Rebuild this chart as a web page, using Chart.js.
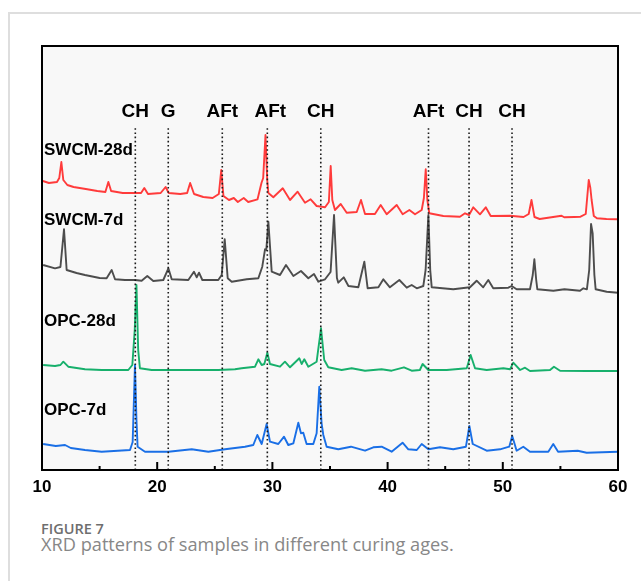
<!DOCTYPE html>
<html>
<head>
<meta charset="utf-8">
<script src="https://cdn.jsdelivr.net/npm/chart.js@4.4.0/dist/chart.umd.min.js"></script>
<style>
  html, body { margin: 0; padding: 0; background: #fff; }
  body { width: 641px; height: 581px; position: relative; overflow: hidden; }
  .card { position: absolute; left: 8px; top: 12px; width: 700px; height: 700px;
          border-left: 2px solid #dedede; border-top: 2px solid #dedede; }
  #xrd { position: absolute; left: 0; top: 0; }
  .fig { position: absolute; left: 41px; top: 519px; font: 600 14.5px "Open Sans"; color: #6e6e6e; white-space: nowrap; }
  .cap { position: absolute; left: 41px; top: 532px; font: 400 18.2px "Open Sans"; color: #878787; white-space: nowrap; }
</style>
</head>
<body>
<div class="card"></div>
<canvas id="xrd" width="641" height="505"></canvas>
<div class="fig">FIGURE 7</div>
<div class="cap">XRD patterns of samples in different curing ages.</div>
<script>
// 2theta (deg), intensity (a.u., traces already stacked)
const SWCM_28D = [[10.08,289],[10.6,287],[11.3,288],[11.5,292],[11.68,308],[11.85,290],[12.2,285],[12.74,283],[13.8,281],[14.8,279],[15.5,278],[15.76,288],[16.0,279],[17.0,277],[18.07,277],[18.6,277],[18.88,282],[19.2,276],[20.3,277],[20.73,283],[21.0,277],[22.0,276],[22.6,277],[22.86,287],[23.2,276],[24.0,273],[24.81,272],[25.35,276],[25.56,300],[25.75,274],[26.23,270],[26.65,272],[27.0,268],[27.51,272],[27.9,268],[28.71,270.7],[29.05,287],[29.2,292],[29.4,335],[29.55,290],[29.65,277],[30.08,272.7],[30.9,281.7],[31.53,270],[32.19,278.3],[32.83,267.3],[33.32,270.7],[33.84,264],[34.57,262.7],[34.9,268],[35.06,304],[35.2,270],[35.43,260],[35.93,266],[36.45,257.3],[37.32,258],[37.69,270],[38.04,256],[38.9,256],[39.4,265],[39.92,255.7],[40.79,265],[41.31,255.7],[41.89,260],[42.38,255.7],[42.96,260],[43.15,272],[43.31,300.7],[43.45,270],[43.62,256.7],[44.84,254],[46.28,253.3],[46.72,256.7],[47.07,255],[47.44,262.7],[48.02,255.7],[48.52,262.7],[48.95,254],[50.63,254.3],[51.8,253],[52.25,256],[52.49,270],[52.75,253],[53.2,251],[55.1,254.3],[55.33,252.7],[56.2,253],[56.75,253.3],[57.2,256],[57.46,290],[57.6,282],[57.71,270],[57.9,254],[58.17,251.7],[59.0,251],[59.94,250.7]];

const SWCM_7D = [[10.1,205],[11.13,201.7],[11.6,203],[11.91,240.7],[12.14,200],[13.0,197],[13.73,195],[15.0,192],[15.61,191.7],[16.05,200],[16.34,190.7],[17.2,190],[18.07,190],[18.65,189.3],[19.14,194],[19.66,189],[20.53,190],[20.97,201.7],[21.26,190.7],[22.7,190],[23.19,198.3],[23.43,192.7],[23.63,197.3],[23.92,190],[25.3,190],[25.6,195],[25.86,230.7],[26.12,191.7],[26.47,188.3],[27.77,190.7],[28.78,191.7],[29.12,203.3],[29.36,220.7],[29.47,220],[29.65,248.3],[29.94,198.3],[30.66,195],[31.18,205],[31.82,194],[32.48,199],[33.12,191.7],[33.61,196],[33.99,188.3],[34.57,190.7],[35.05,198],[35.35,255],[35.6,192],[35.72,187.3],[36.19,192.7],[36.6,184],[37.46,182.7],[37.98,208.3],[38.27,181.7],[39.2,182.7],[39.63,190.7],[40.2,182.7],[41.02,190],[41.66,182.3],[42.09,185],[42.53,181.7],[43.1,184],[43.3,200],[43.54,255],[43.7,200],[43.83,182.7],[45.7,180.7],[47.15,182.7],[47.73,189.3],[48.3,182.7],[48.74,190],[49.17,181.7],[50.48,182.3],[50.77,184],[51.2,180.7],[52.36,180.7],[52.6,195],[52.74,210.7],[52.9,190],[53.0,180.7],[54.39,179.3],[55.35,180.7],[56.7,179.3],[56.99,181.7],[57.3,180.7],[57.5,200],[57.66,246],[57.8,236.7],[57.95,195],[58.06,180.7],[59.02,178.3],[60.0,177.3]];

const OPC_28D = [[10.1,105],[11.13,104],[11.6,105],[11.85,108.3],[12.28,103.3],[13.73,100.7],[15.18,100],[17.49,100],[17.84,105],[18.05,140],[18.2,185],[18.35,120],[18.5,101.7],[19.52,100],[22.41,100],[25.3,100],[26.75,100.7],[27.33,101.7],[28.49,103.3],[28.78,110.7],[29.07,105],[29.3,106],[29.56,117.3],[29.79,106],[30.66,103.3],[31.09,108.3],[31.53,102.7],[32.34,111.7],[32.54,106],[32.77,110.7],[33.12,103.3],[33.84,108.3],[34.22,141.7],[34.5,110],[34.85,102.7],[36.01,100],[36.88,101.7],[38.04,99.3],[39.48,100.7],[40.35,99.3],[41.42,102.7],[42.09,99.3],[42.8,100],[43.04,106],[43.54,100],[45.13,100],[46.87,101.7],[47.21,115],[47.59,101.7],[48.6,100],[50.05,101.7],[50.63,100.7],[50.91,107.3],[51.5,100],[51.93,102.3],[52.36,99],[54.1,100],[54.44,103.3],[54.97,99.3],[57.28,99],[60.0,99]];

const OPC_7D = [[10.1,26],[11.2,24],[12.0,25],[12.5,22],[13.73,20],[15.18,18.3],[17.64,20],[17.87,28],[18.07,105],[18.2,50],[18.3,23.3],[18.94,18.3],[20.97,18.3],[23.0,20.7],[24.44,18.3],[25.89,20.7],[27.62,23.3],[28.34,25],[28.69,35],[29.07,26],[29.5,46],[29.79,28.3],[30.51,26],[31.01,33.3],[31.38,25],[31.82,26.7],[32.25,47.3],[32.48,36.7],[32.68,37.3],[32.97,26],[33.55,26],[33.84,36.7],[34.07,83.3],[34.27,46.7],[34.42,35],[34.71,23.3],[35.72,20.7],[36.82,23.3],[38.04,19.3],[38.76,22.7],[39.48,23.3],[40.35,18.3],[41.3,27.3],[41.8,20.7],[42.53,20],[42.96,26],[43.54,20.7],[44.55,22.7],[45.7,20.7],[46.8,23.3],[47.1,44],[47.39,26],[48.6,19.3],[49.76,20.7],[50.56,23.3],[50.82,34],[51.2,19.3],[51.78,23.3],[52.36,18.3],[53.95,18.3],[54.38,26],[54.8,18.3],[56.5,19.3],[57.28,17.3],[60.0,18.3]];

const SAMPLE_NAMES = ['SWCM-28d', 'SWCM-7d', 'OPC-28d', 'OPC-7d'];
const SAMPLE_LABEL_Y = [315, 245, 144, 55];
const PHASE_NAMES = ['CH', 'G', 'AFt', 'AFt', 'CH', 'AFt', 'CH', 'CH'];
const PHASE_POS = [18.1, 20.96, 25.65, 29.56, 34.2, 43.55, 47.07, 50.8];

const LINE_TOP = 343;
const LABEL_Y = 353;
const colors = ['#ff3b3b', '#4d4d4d', '#17b06c', '#1a6fe6'];

const toXY = arr => arr.map(p => ({ x: p[0], y: p[1] }));

const traces = [SWCM_28D, SWCM_7D, OPC_28D, OPC_7D].map((d, i) => ({
  label: SAMPLE_NAMES[i],
  data: toXY(d),
  borderColor: colors[i],
  borderWidth: 1.9,
  borderJoinStyle: 'round',
  pointRadius: 0,
  tension: 0,
  order: 1
}));

const markers = PHASE_POS.map((p, i) => ({
  label: PHASE_NAMES[i],
  data: [{ x: p, y: 0 }, { x: p, y: LINE_TOP }],
  borderColor: '#1a1a1a',
  borderWidth: 1.6,
  borderDash: [1.6, 2.6],
  pointRadius: 0,
  order: 0
}));

const frame = {
  id: 'frame',
  beforeDraw(chart) {
    const { ctx, chartArea: a } = chart;
    ctx.save();
    ctx.fillStyle = '#f8f8f8';
    ctx.fillRect(a.left, a.top, a.right - a.left, a.bottom - a.top);
    ctx.restore();
  },
  afterDraw(chart) {
    const { ctx, chartArea: a, scales } = chart;
    const xs = scales.x, ys = scales.y;
    ctx.save();
    // inward ticks, minor ones halfway
    ctx.strokeStyle = '#000';
    ctx.lineWidth = 2;
    const vals = xs.ticks.map(t => t.value);
    vals.forEach((v, i) => {
      const px = xs.getPixelForValue(v);
      ctx.beginPath(); ctx.moveTo(px, a.bottom); ctx.lineTo(px, a.bottom - 8); ctx.stroke();
      if (i < vals.length - 1) {
        const mx = xs.getPixelForValue((v + vals[i + 1]) / 2);
        ctx.beginPath(); ctx.moveTo(mx, a.bottom); ctx.lineTo(mx, a.bottom - 4); ctx.stroke();
      }
    });
    ctx.strokeRect(a.left, a.top, a.right - a.left, a.bottom - a.top);

    ctx.fillStyle = '#000';
    ctx.textBaseline = 'alphabetic';
    ctx.font = 'bold 19px "Liberation Sans", Arial, sans-serif';
    ctx.textAlign = 'center';
    PHASE_POS.forEach((p, i) => {
      const dx = i === 3 ? 3 : 0;
      ctx.fillText(PHASE_NAMES[i], xs.getPixelForValue(p) + dx, ys.getPixelForValue(LABEL_Y));
    });
    ctx.font = 'bold 17px "Liberation Sans", Arial, sans-serif';
    ctx.textAlign = 'left';
    SAMPLE_NAMES.forEach((n, i) => {
      ctx.fillText(n, a.left + 2, ys.getPixelForValue(SAMPLE_LABEL_Y[i]));
    });
    ctx.restore();
  }
};

new Chart(document.getElementById('xrd'), {
  type: 'line',
  data: { datasets: markers.concat(traces) },
  options: {
    responsive: false,
    animation: false,
    layout: { padding: { left: 42, right: 23, top: 46, bottom: 0 } },
    plugins: { legend: { display: false }, tooltip: { enabled: false } },
    scales: {
      x: {
        type: 'linear', min: 10, max: 60,
        grid: { display: false, drawTicks: false },
        border: { display: false },
        ticks: {
          stepSize: 10, padding: 7, color: '#000',
          font: { family: '"Liberation Sans", Arial, sans-serif', size: 17, weight: 'bold' }
        },
        afterFit(scale) { scale.height = 35; }
      },
      y: { type: 'linear', min: 0, max: 424, display: false }
    }
  },
  plugins: [frame]
});
</script>
</body>
</html>
